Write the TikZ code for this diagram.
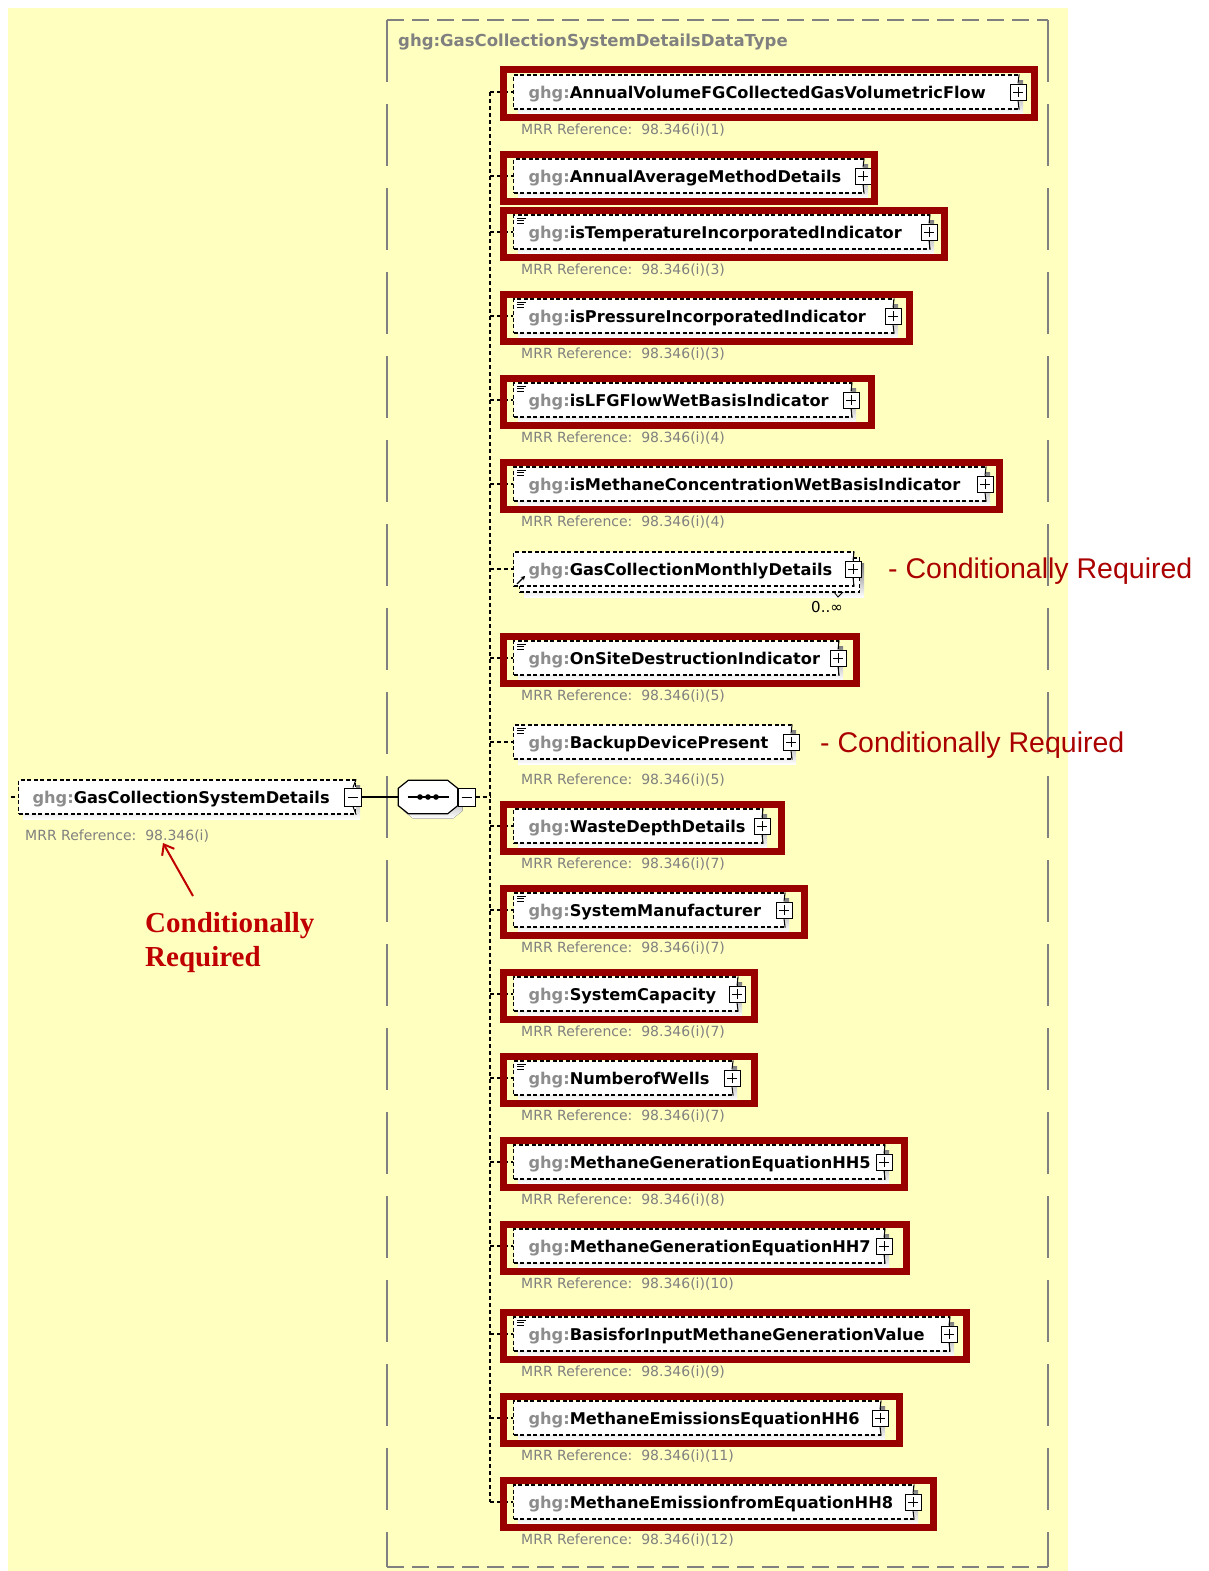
\documentclass[tikz,border=0pt]{standalone}
\usepackage{fontspec}
\setmainfont{DejaVu Sans}
\newfontfamily\arialfont{Liberation Sans}
\newfontfamily\timesfont{Liberation Serif}
\usetikzlibrary{arrows.meta}

\definecolor{panel}{RGB}{255,255,192}
\definecolor{shade}{RGB}{192,192,192}
\definecolor{framegray}{RGB}{128,128,128}
\definecolor{prefixgray}{RGB}{140,140,140}
\definecolor{mrrgray}{RGB}{128,128,128}
\definecolor{hilite}{RGB}{153,0,0}
\definecolor{notered}{RGB}{170,0,0}
\definecolor{arrowred}{RGB}{192,0,0}

\newcommand\gp{\textcolor{prefixgray}{ghg:}}

\tikzset{
  elembox/.style={draw, fill=white, line width=1.1pt, dash pattern=on 4pt off 2.5pt,
    minimum height=34pt, inner xsep=15pt, inner ysep=0pt, text height=12pt, text depth=0pt,
    align=left, font=\bfseries\fontsize{16.2}{18}\selectfont},
  btnplus/.style={draw, fill=white, line width=1pt, minimum size=16pt, inner sep=0pt,
    path picture={\draw[line width=1pt]
      ([xshift=-5pt]path picture bounding box.center) -- ([xshift=5pt]path picture bounding box.center)
      ([yshift=-5pt]path picture bounding box.center) -- ([yshift=5pt]path picture bounding box.center);}},
  btnminus/.style={draw, fill=white, line width=1pt, minimum width=17pt, minimum height=18pt, inner sep=0pt,
    path picture={\draw[line width=1pt]
      ([xshift=-5pt]path picture bounding box.center) -- ([xshift=5pt]path picture bounding box.center);}},
  conn/.style={line width=1.1pt, dash pattern=on 4pt off 3pt},
  tick/.style={line width=1pt},
  redframe/.style={draw=hilite, line width=7pt},
  mrr/.style={text=mrrgray, font=\fontsize{14}{16}\selectfont, inner sep=0pt, anchor=west},
  note/.style={text=notered, font=\arialfont\fontsize{28.5}{32}\selectfont, inner sep=0pt, anchor=west},
  seqbox/.style={rectangle, minimum width=59pt, minimum height=33pt, inner sep=0pt},
}

% octagonal outline of a compositor node #1, corner cut #2 (x) and #3 (y)
\newcommand\octpath[3]{([xshift=#2]#1.north west) -- ([xshift=-#2]#1.north east)
  -- ([yshift=-#3]#1.north east) -- ([yshift=#3]#1.south east)
  -- ([xshift=-#2]#1.south east) -- ([xshift=#2]#1.south west)
  -- ([yshift=#3]#1.south west) -- ([yshift=-#3]#1.north west) -- cycle}

% one child element of the sequence:
% #1 name, #2 centre y, #3 right edge x, #4 local name, #5 simple-type mark (1/0),
% #6 MRR reference (empty = none), #7 right edge of the highlight frame (0 = none)
\newcommand\ghgelem[7]{%
  \pgfmathsetmacro\elw{#3-543}%
  \fill[shade] (518,{#2-12}) rectangle ({#3+5},{#2+22});
  \node[elembox, text width=\elw pt, anchor=west] (#1) at (513,#2) {\mbox{\gp#4}};
  \node[btnplus] (#1-b) at (#3,#2) {};
  \draw[tick] (#1-b.north) -- (#1.north east) (#1-b.south) -- (#1.south east);
  \ifnum#5=1
    \draw[line width=1pt] (517,{#2-14}) -- (526,{#2-14}) (517,{#2-11.5}) -- (524,{#2-11.5})
      (517,{#2-9}) -- (524,{#2-9});
  \fi
  \coordinate (#1-t) at (490,#2);
  \draw[conn] (#1-t) -- (#1.west);
  \ifnum#7>0
    \draw[redframe] (503.5,{#2-22}) rectangle ({#7-3.5},{#2+25});
  \fi
  \ifx\relax#6\relax\else
    \node[mrr] (#1-m) at (521,{#2+38}) {MRR Reference:\ \ #6};
  \fi
}

\begin{document}
\begin{tikzpicture}[x=1pt,y=-1pt]
\useasboundingbox (0,0) rectangle (1208,1571);
\fill[white] (0,0) rectangle (1208,1571);
\fill[panel] (8,8) rectangle (1068,1571);

% complex type frame
\draw[framegray, line width=1.4pt, dash pattern=on 17pt off 8pt] (387,20) -- (1048,20);
\draw[framegray, line width=1.4pt, dash pattern=on 17pt off 8pt] (387,1567) -- (1048,1567);
\draw[framegray, line width=1.4pt, dash pattern=on 62pt off 22pt] (387,20) -- (387,1567);
\draw[framegray, line width=1.4pt, dash pattern=on 62pt off 22pt] (1048,20) -- (1048,1567);
\node[text=framegray, font=\bfseries\fontsize{16.5}{18}\selectfont, inner sep=0pt, anchor=west]
  (dtype) at (398,42) {ghg:GasCollectionSystemDetailsDataType};

% parent element
\fill[shade] (23,785) rectangle (360,819);
\node[elembox, inner xsep=14pt, text width=309pt, anchor=west] (gcsd) at (18,797)
  {\mbox{\gp GasCollectionSystemDetails}};
\node[btnminus] (gcsd-b) at (353,797) {};
\draw[tick] (gcsd-b.north) -- (gcsd.north east) (gcsd-b.south) -- (gcsd.south east);
\coordinate (gcsd-in) at (11,797);
\draw[conn] (gcsd-in) -- (gcsd.west);
\node[mrr] (gcsd-m) at (25,836) {MRR Reference:\ \ 98.346(i)};

% sequence compositor
\node[seqbox] (seq-sh) at (433,802) {};
\fill[shade] \octpath{seq-sh}{10pt}{8pt};
\node[seqbox] (seq) at (428,797) {};
\draw[fill=white, line width=1.2pt] \octpath{seq}{10pt}{8pt};
\draw[line width=1.2pt] ([xshift=-20.5pt]seq.center) -- ([xshift=20.5pt]seq.center);
\fill ([xshift=-8pt]seq.center) circle (2.8pt) (seq.center) circle (2.8pt) ([xshift=8pt]seq.center) circle (2.8pt);
\node[btnminus, anchor=west] (seq-b) at (seq.east) {};
\draw[line width=1.2pt] (gcsd-b.east) -- (seq.west);
\coordinate (mid) at (490,797);
\draw[conn] (seq-b.east) -- (mid);

% children
\ghgelem{avf}{92}{1018}{AnnualVolumeFGCollectedGasVolumetricFlow}{0}{98.346(i)(1)}{1038}
\ghgelem{aam}{176}{863}{AnnualAverageMethodDetails}{0}{}{878}
\ghgelem{tmp}{232}{929}{isTemperatureIncorporatedIndicator}{1}{98.346(i)(3)}{948}
\ghgelem{prs}{316}{893}{isPressureIncorporatedIndicator}{1}{98.346(i)(3)}{913}
\ghgelem{lfg}{400}{851}{isLFGFlowWetBasisIndicator}{1}{98.346(i)(4)}{875}
\ghgelem{mcw}{484}{985}{isMethaneConcentrationWetBasisIndicator}{1}{98.346(i)(4)}{1003}

% repeating element GasCollectionMonthlyDetails (0..unbounded)
\fill[shade] (524,563) rectangle (864,597);
\node[elembox, minimum width=340pt, anchor=west] (gcm-bk) at (519,575) {};
\node[elembox, text width=310pt, anchor=west] (gcm) at (513,569) {\mbox{\gp GasCollectionMonthlyDetails}};
\node[btnplus] (gcm-b) at (853,569) {};
\draw[tick] (gcm-b.north) -- (gcm.north east) (gcm-b.south) -- (gcm.south east);
\draw[line width=1.3pt, -{Stealth[length=4pt,width=4.5pt]}] (517,584) -- (525,576);
\coordinate (gcm-t) at (490,569);
\draw[conn] (gcm-t) -- (gcm.west);
\draw[line width=0.8pt] (834,592) -- (838,597) -- (843,592);
\node[font=\fontsize{15}{17}\selectfont, inner sep=0pt] (gcm-occ) at (827,607) {0..∞};
\node[note] (cr1) at (888,571) {- Conditionally Required};

\ghgelem{osd}{658}{838}{OnSiteDestructionIndicator}{1}{98.346(i)(5)}{860}
\ghgelem{bdp}{742}{791}{BackupDevicePresent}{1}{98.346(i)(5)}{0}
\node[note] (cr2) at (820,745) {- Conditionally Required};
\ghgelem{wdd}{826}{762}{WasteDepthDetails}{0}{98.346(i)(7)}{785}
\ghgelem{sman}{910}{784}{SystemManufacturer}{1}{98.346(i)(7)}{808}
\ghgelem{scap}{994}{737}{SystemCapacity}{0}{98.346(i)(7)}{758}
\ghgelem{nwell}{1078}{732}{NumberofWells}{1}{98.346(i)(7)}{758}
\ghgelem{hh5}{1162}{884}{MethaneGenerationEquationHH5}{0}{98.346(i)(8)}{908}
\ghgelem{hh7}{1246}{884}{MethaneGenerationEquationHH7}{0}{98.346(i)(10)}{910}
\ghgelem{bim}{1334}{949}{BasisforInputMethaneGenerationValue}{1}{98.346(i)(9)}{970}
\ghgelem{hh6}{1418}{880}{MethaneEmissionsEquationHH6}{0}{98.346(i)(11)}{903}
\ghgelem{hh8}{1502}{913}{MethaneEmissionfromEquationHH8}{0}{98.346(i)(12)}{937}

% sequence trunk
\draw[conn] (avf-t) -- (hh8-t);

% annotation on the parent element
\node[text=arrowred, font=\timesfont\bfseries\fontsize{29}{34}\selectfont, align=left, inner sep=0pt, anchor=west]
  (crl) at (145,943) {Conditionally\\Required};
\coordinate (atail) at (193,896);
\coordinate (atip) at (163,843);
\draw[arrowred, line width=2pt, -{Straight Barb[length=9pt,width=14pt]}] (atail) -- (atip);
\end{tikzpicture}
\end{document}
